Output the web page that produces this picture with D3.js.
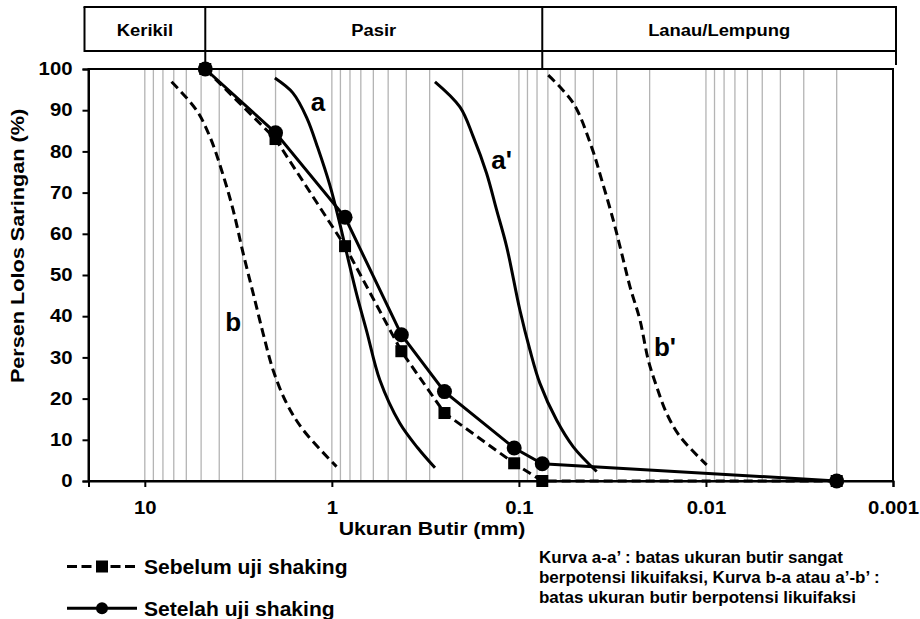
<!DOCTYPE html>
<html>
<head>
<meta charset="utf-8">
<script src="https://cdn.jsdelivr.net/npm/d3@7"></script>
<style>
  html, body { margin: 0; padding: 0; background: #fff; }
  svg { display: block; font-family: "Liberation Sans", Arial, sans-serif; font-weight: bold; }
</style>
</head>
<body>
<svg id="chart" width="920" height="619"></svg>
<script>
// ---------------- DATA ----------------
const sieveSizes = [4.75, 2.0, 0.85, 0.425, 0.25, 0.106, 0.075, 0.002];
const sebelumPct = [100, 83, 57, 31.5, 16.5, 4.3, 0, 0];
const setelahPct = [100, 84.5, 64, 35.5, 21.7, 8, 4.2, 0];

const curveASize = [2.017, 1.617, 1.360, 1.188, 1.025, 0.906, 0.821, 0.735, 0.650, 0.554, 0.433, 0.347, 0.281];
const curveAPct  = [97.8, 94.2, 88.1, 80.8, 71.8, 62.4, 54.1, 45.1, 36.2, 24.5, 14.0, 8.0, 3.2];

const curveA2Size = [0.281, 0.2068, 0.1755, 0.1489, 0.1316, 0.1163, 0.0988, 0.0873, 0.0772, 0.0629, 0.0512, 0.0384];
const curveA2Pct  = [96.9, 90.8, 83.6, 74.7, 65.8, 56.9, 41.5, 31.8, 23.7, 14.8, 8.3, 2.3];

const curveBSize = [7.196, 5.291, 4.491, 3.890, 3.372, 2.981, 2.636, 2.330, 2.060, 1.747, 1.424, 0.944];
const curveBPct  = [96.9, 90.0, 83.6, 75.5, 65.8, 55.3, 45.6, 35.8, 26.9, 18.9, 12.4, 3.5];

const curveB2Size = [0.0697, 0.0512, 0.0409, 0.0361, 0.0313, 0.02823, 0.02549, 0.02254, 0.02035, 0.01835, 0.01622, 0.01377, 0.00991];
const curveB2Pct  = [98.5, 91.7, 81.1, 73.1, 63.3, 55.3, 47.2, 39.1, 29.4, 22.9, 16.4, 10.8, 3.9];

const curveLabels = ["a", "a'", "b", "b'"];
const curveLabelSize = [1.188, 0.1238, 3.372, 0.01657];
const curveLabelPct = [92.1, 77.9, 38.7, 32.6];

const xTickValues = [10, 1, 0.1, 0.01, 0.001];
const yTickValues = [0, 10, 20, 30, 40, 50, 60, 70, 80, 90, 100];
const classNames = ["Kerikil", "Pasir", "Lanau/Lempung"];
const classBounds = [20, 4.75, 0.075, 0.001];

const xTitle = "Ukuran Butir (mm)";
const yTitle = "Persen Lolos Saringan (%)";
const legendNames = ["Sebelum uji shaking", "Setelah uji shaking"];
const noteLines = [
  "Kurva a-a\u2019 : batas ukuran butir sangat",
  "berpotensi likuifaksi, Kurva b-a atau a\u2019-b\u2019 :",
  "batas ukuran butir berpotensi likuifaksi"
];

// ---------------- LAYOUT ----------------
const svg = d3.select("#chart");
const L = 88.5, R = 893, T = 69, B = 481;
const x = d3.scaleLog().domain([20, 0.001]).range([L, R]);
const y = d3.scaleLinear().domain([0, 100]).range([B, T]);
const LW = 3;
const DASH = "9,5";

function stext(parent, px, py, str, size, k, anchor, extra) {
  return parent.append("text")
    .attr("transform", `translate(${px},${py})${extra || ""} scale(${k},1)`)
    .attr("text-anchor", anchor || "start")
    .attr("font-size", size).text(str);
}

// grid lines (2..10 per decade)
const gridSet = [];
[1, 0.1, 0.01, 0.001].forEach(base => {
  for (let k = 2; k <= 10; k++) gridSet.push(base * k);
});
svg.append("g").selectAll("line").data(gridSet).join("line")
  .attr("x1", d => x(d)).attr("x2", d => x(d))
  .attr("y1", T).attr("y2", B)
  .attr("stroke", "#b4b4b4").attr("stroke-width", 1.3);

// header classification table
const hdrTop = 7, hdrBot = 51;
const hL = x(20) - 4, hR = x(0.001) + 3;
const hdr = svg.append("g");
hdr.append("line").attr("x1", hL - 1).attr("x2", hR + 1).attr("y1", hdrTop).attr("y2", hdrTop).attr("stroke", "#000").attr("stroke-width", 2);
hdr.append("line").attr("x1", hL).attr("x2", hR).attr("y1", hdrBot).attr("y2", hdrBot).attr("stroke", "#000").attr("stroke-width", 2);
hdr.append("line").attr("x1", hL).attr("x2", hL).attr("y1", hdrTop).attr("y2", hdrBot + 1).attr("stroke", "#000").attr("stroke-width", 2);
hdr.append("line").attr("x1", hR).attr("x2", hR).attr("y1", hdrTop).attr("y2", 65).attr("stroke", "#000").attr("stroke-width", 2);
[4.75, 0.075].forEach(v => {
  hdr.append("line").attr("x1", x(v)).attr("x2", x(v)).attr("y1", hdrTop).attr("y2", T)
    .attr("stroke", "#000").attr("stroke-width", 2);
});
classNames.forEach((n, i) => {
  const a = i === 0 ? hL : x(classBounds[i]);
  const b = i === 2 ? hR : x(classBounds[i + 1]);
  stext(hdr, (a + b) / 2, 35.5, n, 17.2, 1.07, "middle");
});

// plot frame
svg.append("rect").attr("x", L).attr("y", T).attr("width", R - L).attr("height", B - T)
  .attr("fill", "none").attr("stroke", "#000").attr("stroke-width", 2);

// axes
const TK = 1.13;
const yAxis = d3.axisLeft(y).tickValues(yTickValues).tickSize(6).tickPadding(10).tickFormat(d3.format("d"));
const gy = svg.append("g").attr("transform", `translate(${L},0)`).call(yAxis);
const xAxis = d3.axisBottom(x).tickValues(xTickValues).tickSize(6).tickPadding(14).tickFormat(d => String(d));
const gx = svg.append("g").attr("transform", `translate(0,${B})`).call(xAxis);
[gx, gy].forEach(g => {
  g.select(".domain").attr("stroke", "#000").attr("stroke-width", 2);
  g.selectAll(".tick line").attr("stroke", "#000").attr("stroke-width", 2);
  g.selectAll(".tick text").attr("fill", "#000").attr("font-size", 18)
    .attr("font-family", "Liberation Sans, Arial, sans-serif").attr("font-weight", "bold")
    .each(function () {
      const t = d3.select(this);
      const xx = +(t.attr("x") || 0);
      t.attr("x", xx / TK).attr("transform", `scale(${TK},1)`);
    });
});

// titles
stext(svg, 432, 535, xTitle, 19, 1.12, "middle");
stext(svg, 24, 246, yTitle, 19, 1.14, "middle", " rotate(-90)");

// reference curves
const smooth = d3.line().x(d => x(d[0])).y(d => y(d[1])).curve(d3.curveCatmullRom.alpha(0.5));
const refCurves = [
  { s: curveASize, p: curveAPct, dash: null },
  { s: curveA2Size, p: curveA2Pct, dash: null },
  { s: curveBSize, p: curveBPct, dash: DASH },
  { s: curveB2Size, p: curveB2Pct, dash: DASH }
];
refCurves.forEach(c => {
  svg.append("path").datum(c.s.map((v, i) => [v, c.p[i]]))
    .attr("d", smooth).attr("fill", "none").attr("stroke", "#000")
    .attr("stroke-width", LW).attr("stroke-dasharray", c.dash);
});
curveLabels.forEach((t, i) => {
  svg.append("text").attr("x", x(curveLabelSize[i])).attr("y", y(curveLabelPct[i]))
    .attr("text-anchor", "middle").attr("dominant-baseline", "central")
    .attr("font-size", 26).text(t);
});

// data series
const lin = d3.line().x(d => x(d[0])).y(d => y(d[1]));
const seb = sieveSizes.map((v, i) => [v, sebelumPct[i]]);
const set = sieveSizes.map((v, i) => [v, setelahPct[i]]);
svg.append("path").datum(seb).attr("d", lin).attr("fill", "none").attr("stroke", "#000")
  .attr("stroke-width", LW).attr("stroke-dasharray", DASH);
svg.append("g").selectAll("rect").data(seb).join("rect")
  .attr("x", d => x(d[0]) - 6).attr("y", d => y(d[1]) - 6)
  .attr("width", 12).attr("height", 12).attr("fill", "#000");
svg.append("path").datum(set).attr("d", lin).attr("fill", "none").attr("stroke", "#000")
  .attr("stroke-width", LW);
svg.append("g").selectAll("circle").data(set).join("circle")
  .attr("cx", d => x(d[0])).attr("cy", d => y(d[1])).attr("r", 7.5).attr("fill", "#000");

// legend
const lg = svg.append("g");
const legY = [566.5, 608.3];
lg.append("line").attr("x1", 67).attr("x2", 137).attr("y1", legY[0]).attr("y2", legY[0])
  .attr("stroke", "#000").attr("stroke-width", LW).attr("stroke-dasharray", "10,4.5");
lg.append("rect").attr("x", 96).attr("y", legY[0] - 6).attr("width", 12).attr("height", 12).attr("fill", "#000");
lg.append("line").attr("x1", 67).attr("x2", 137).attr("y1", legY[1]).attr("y2", legY[1])
  .attr("stroke", "#000").attr("stroke-width", LW);
lg.append("circle").attr("cx", 102).attr("cy", legY[1]).attr("r", 6).attr("fill", "#000");
legendNames.forEach((n, i) => {
  stext(lg, 144, legY[i] + 7.5, n, 19.5, 1.08, "start");
});

// note
noteLines.forEach((t, i) => {
  stext(svg, 539, 563 + i * 20, t, 16.5, 1.03, "start");
});
</script>
</body>
</html>
